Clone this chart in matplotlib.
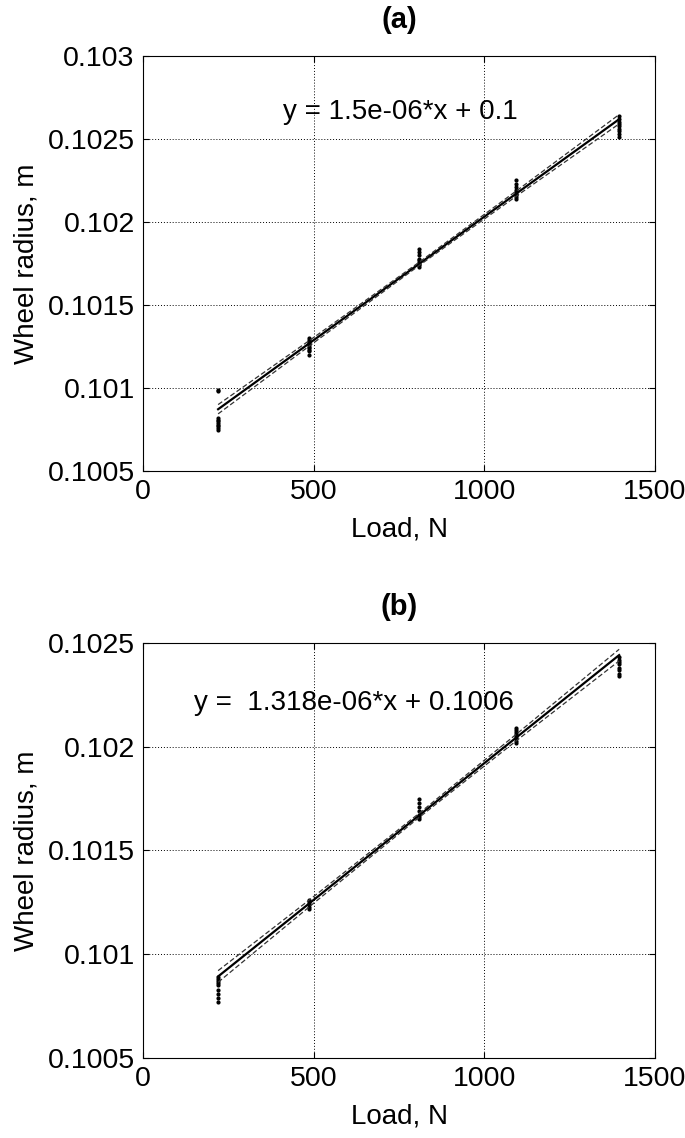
import matplotlib.pyplot as plt
import numpy as np

plt.rcParams['font.family'] = ['Liberation Sans', 'DejaVu Sans']

# load levels (N)
loads = [220, 485, 810, 1092, 1395]

# measured wheel radius, panel (a)
pts_a = {
    220: [0.10075, 0.10076, 0.10077, 0.10078, 0.10079, 0.10080, 0.10081, 0.10082, 0.10098, 0.10099],
    485: [0.10120, 0.10122, 0.10123, 0.10124, 0.10125, 0.10126, 0.10127, 0.10128, 0.10129, 0.10130],
    810: [0.10173, 0.10174, 0.10175, 0.10176, 0.10177, 0.10178, 0.10180, 0.10182, 0.10184],
    1092: [0.10214, 0.10215, 0.10216, 0.10217, 0.10218, 0.10219, 0.10221, 0.10223, 0.10225],
    1395: [0.10251, 0.10253, 0.10255, 0.10256, 0.10258, 0.10259, 0.10260, 0.10262, 0.10264],
}
# measured wheel radius, panel (b)
pts_b = {
    220: [0.10077, 0.10079, 0.10081, 0.10083, 0.10085, 0.10086, 0.10087, 0.10088, 0.10089],
    485: [0.10122, 0.10123, 0.10124, 0.10125, 0.10126],
    810: [0.10165, 0.10166, 0.10167, 0.10169, 0.10171, 0.10173, 0.10175],
    1092: [0.10202, 0.10203, 0.10204, 0.10205, 0.10206, 0.10207, 0.10208, 0.10209],
    1395: [0.10234, 0.10235, 0.10237, 0.10238, 0.10240, 0.10241, 0.10242, 0.10243],
}

# fitted line (slope, intercept) as drawn
fit_a = (1.487e-6, 0.100545)
fit_b = (1.318e-6, 0.100603)

# confidence band half-width along load
band_x = [220, 500, 810, 1100, 1395]
band_hw = [2.8e-5, 1.6e-5, 1.0e-5, 1.6e-5, 2.8e-5]

eq_a = 'y = 1.5e-06*x + 0.1'
eq_b = 'y =  1.318e-06*x + 0.1006'

fig = plt.figure(figsize=(6.85, 11.38), dpi=100)
ax1 = fig.add_axes([0.2088, 0.5861, 0.7474, 0.3647])
ax2 = fig.add_axes([0.2088, 0.0703, 0.7474, 0.3647])


def panel(ax, pts, fit, eq, eq_xy, ylim, yticks, ylabels, title):
    for x, ys in pts.items():
        ax.plot([x] * len(ys), ys, 'k.', ms=4, zorder=3)
    bx = np.array(band_x)
    yl = fit[0] * bx + fit[1]
    ax.plot(bx, yl, 'k-', lw=1.6, zorder=4)
    ax.plot(bx, yl + np.array(band_hw), '--', color='0.2', lw=0.9, dashes=(4, 2), zorder=4)
    ax.plot(bx, yl - np.array(band_hw), '--', color='0.2', lw=0.9, dashes=(4, 2), zorder=4)
    ax.set_xlim(0, 1500)
    ax.set_ylim(*ylim)
    ax.set_xticks([0, 500, 1000, 1500])
    ax.set_yticks(yticks)
    ax.set_yticklabels(ylabels)
    ax.grid(True, color='k', linestyle=(0, (1, 2)), lw=0.7)
    ax.tick_params(direction='in', top=True, right=True, labelsize=20.5, length=4, pad=6)
    ax.set_xlabel('Load, N', fontsize=20, labelpad=8)
    ax.set_ylabel('Wheel radius, m', fontsize=20, labelpad=6)
    ax.set_title(title, fontsize=21, fontweight='bold', pad=20)
    ax.text(eq_xy[0], eq_xy[1], eq, fontsize=20, va='center', ha='left')


panel(ax1, pts_a, fit_a, eq_a, (410, 0.10266), (0.1005, 0.103),
      [0.1005, 0.101, 0.1015, 0.102, 0.1025, 0.103],
      ['0.1005', '0.101', '0.1015', '0.102', '0.1025', '0.103'], '(a)')
panel(ax2, pts_b, fit_b, eq_b, (148, 0.10221), (0.1005, 0.1025),
      [0.1005, 0.101, 0.1015, 0.102, 0.1025],
      ['0.1005', '0.101', '0.1015', '0.102', '0.1025'], '(b)')

fig.savefig('out.png', dpi=100)
